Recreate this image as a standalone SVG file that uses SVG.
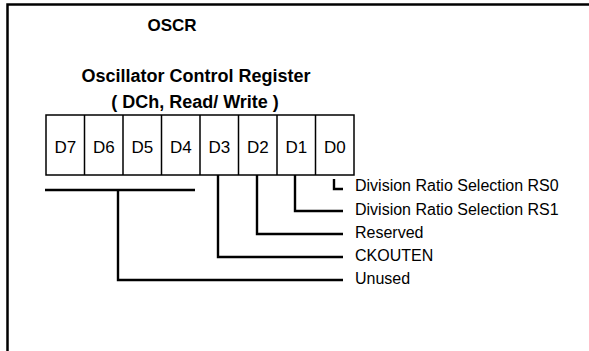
<svg xmlns="http://www.w3.org/2000/svg" width="589" height="351" viewBox="0 0 589 351">
<style>
.t{font-family:"Liberation Sans",Arial,sans-serif;fill:#000}
.b{font-weight:bold;font-size:18px;text-anchor:middle}
.c{font-size:17px;text-anchor:middle}
.l{font-size:16px}
.cn{fill:none;stroke:#000;stroke-width:2.4}
.cell{fill:#fff;stroke:#000;stroke-width:1.5}
</style>
<rect width="589" height="351" fill="#fff"/>
<path d="M7.5 351 V4.5 H589" fill="none" stroke="#000" stroke-width="2.5"/>
<g id="title">
<text class="t b" x="172" y="31" style="font-size:17px">OSCR</text>
<text class="t b" x="196" y="82">Oscillator Control Register</text>
<text class="t b" x="195" y="108">( DCh, Read/ Write )</text>
</g>
<g id="register">
<rect class="cell" x="46" y="115" width="308" height="60" stroke-width="2.2"/>
<path d="M84.5 115V175M123 115V175M161.5 115V175M200 115V175M238.5 115V175M277 115V175M315.5 115V175" stroke="#000" stroke-width="1.5"/>
<text class="t c" x="65.3" y="153">D7</text>
<text class="t c" x="103.8" y="153">D6</text>
<text class="t c" x="142.3" y="153">D5</text>
<text class="t c" x="180.8" y="153">D4</text>
<text class="t c" x="219.3" y="153">D3</text>
<text class="t c" x="257.8" y="153">D2</text>
<text class="t c" x="296.3" y="153">D1</text>
<text class="t c" x="334.8" y="153">D0</text>
</g>
<g id="connectors">
<path class="cn" d="M45 190H195" stroke-width="1.6"/>
<path class="cn" d="M118 190V280H343"/>
<path class="cn" d="M218 175V257H343"/>
<path class="cn" d="M257 175V234H343"/>
<path class="cn" d="M295 175V211H343"/>
<path class="cn" d="M334 179V189H343"/>
</g>
<g id="labels">
<text class="t l" x="355" y="191">Division Ratio Selection RS0</text>
<text class="t l" x="355" y="215">Division Ratio Selection RS1</text>
<text class="t l" x="355" y="238">Reserved</text>
<text class="t l" x="355" y="261">CKOUTEN</text>
<text class="t l" x="355" y="284">Unused</text>
</g>
</svg>
